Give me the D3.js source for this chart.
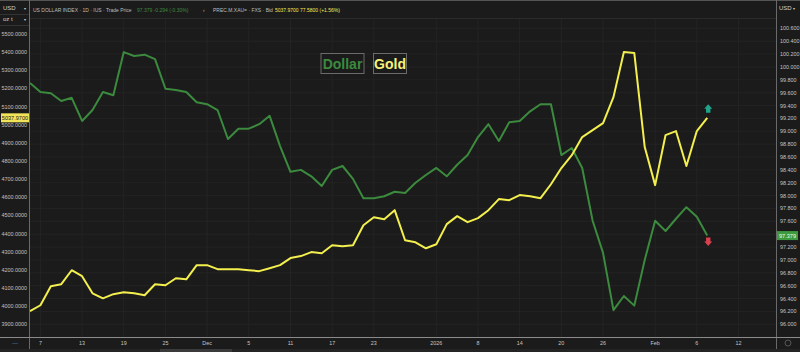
<!DOCTYPE html>
<html>
<head>
<meta charset="utf-8">
<script src="https://cdn.jsdelivr.net/npm/d3@7"></script>
<style>
  html, body { margin: 0; padding: 0; background: #1a1a1a; }
  svg { display: block; font-family: "Liberation Sans", Arial, sans-serif; }
</style>
</head>
<body>
<div id="chart"></div>
<script>
// trading-day index 0 = Nov 6
const dollar = [
  99.75, 99.61, 99.59, 99.47, 99.52, 99.16, 99.33, 99.61, 99.56, 100.23,
  100.17, 100.19, 100.12, 99.66, 99.64, 99.61, 99.45, 99.42, 99.33, 98.88,
  99.04, 99.04, 99.11, 99.24, 98.77, 98.37, 98.40, 98.30, 98.15, 98.40,
  98.46, 98.26, 97.96, 97.96, 97.99, 98.06, 98.04, 98.20, 98.32, 98.43,
  98.30, 98.48, 98.63, 98.91, 99.11, 98.85, 99.14, 99.16, 99.31, 99.42,
  99.42, 98.63, 98.74, 98.43, 97.61, 97.11, 96.22, 96.44, 96.29, 97.00,
  97.61, 97.45, 97.64, 97.82, 97.67, 97.379
];
const gold = [
  3972, 4005, 4110, 4121, 4198, 4165, 4071, 4043, 4066, 4077,
  4071, 4060, 4121, 4115, 4154, 4148, 4226, 4226, 4204, 4204,
  4204, 4198, 4193, 4209, 4226, 4265, 4276, 4298, 4292, 4336,
  4330, 4336, 4446, 4490, 4479, 4529, 4363, 4352, 4319, 4341,
  4452, 4496, 4463, 4485, 4529, 4590, 4584, 4612, 4606, 4595,
  4672, 4761, 4832, 4932, 4970, 5009, 5152, 5401, 5395, 4877,
  4667, 4943, 4965, 4772, 4965, 5037.97
];
const xTickLabels = ['7', '13', '19', '25', 'Dec', '5', '11', '17', '23', '2026', '8', '14', '20', '26', 'Feb', '6', '12'];
const xTickIndex  = [1, 5, 9, 13, 17, 21, 25, 29, 33, 39, 43, 47, 51, 55, 60, 64, 68];
const goldTicks   = d3.range(3900, 5501, 100);
const dollarTicks = d3.range(96, 100.61, 0.2);

const W = 800, H = 352;
const plot = { left: 30, right: 776, top: 18, bottom: 337 };

const svg = d3.select('#chart').append('svg')
  .attr('width', W).attr('height', H);

svg.append('rect').attr('width', W).attr('height', H).attr('fill', '#1b1b1b');

const x  = d3.scaleLinear().domain([0, 71.6]).range([plot.left, plot.right]);
const yL = d3.scaleLinear().domain([3900, 5500]).range([324.3, 34]);
const yR = d3.scaleLinear().domain([96, 100.6]).range([324.3, 28.3]);

// Gridlines
const grid = svg.append('g');
dollarTicks.forEach(v => {
  grid.append('line')
    .attr('x1', plot.left).attr('x2', plot.right)
    .attr('y1', yR(v)).attr('y2', yR(v))
    .attr('stroke', '#232323');
});
xTickIndex.forEach(i => {
  grid.append('line')
    .attr('x1', x(i)).attr('x2', x(i))
    .attr('y1', plot.top).attr('y2', plot.bottom)
    .attr('stroke', '#242424');
});

// Header bar
svg.append('line').attr('x1', 0).attr('x2', W).attr('y1', 0.5).attr('y2', 0.5).attr('stroke', '#555');
svg.append('line').attr('x1', 30).attr('x2', plot.right).attr('y1', 18.5).attr('y2', 18.5).attr('stroke', '#2a2a2a');

// header items: [text, x, colour]
const headerItems = [
  ['US DOLLAR INDEX · 1D · IUS · Trade Price', 33, '#bdbdbd'],
  ['97.379 -0.294 (-0.30%)', 137, '#3f8a3f'],
  ['‹', 203, '#bdbdbd'],
  ['PREC.M.XAU= · FXS · Bid', 213, '#bdbdbd'],
  ['5037.9700 77.5800 (+1.56%)', 275, '#f2ea5a']
];
const hdr = svg.append('g').attr('font-size', 5);
headerItems.forEach(([t, hx, c]) => {
  hdr.append('text').attr('x', hx).attr('y', 11.5).attr('fill', c).text(t);
});

// Left / right unit boxes
const unit = svg.append('g').attr('font-size', 6).attr('fill', '#cfcfcf');
unit.append('text').attr('x', 3).attr('y', 10).text('USD');
unit.append('text').attr('x', 24).attr('y', 10).attr('font-size', 4).text('▾');
unit.append('text').attr('x', 3).attr('y', 21).text('oz t');
unit.append('text').attr('x', 24).attr('y', 21).attr('font-size', 4).text('▾');
unit.append('text').attr('x', 779).attr('y', 10).text('USD');
unit.append('text').attr('x', 793).attr('y', 10).attr('font-size', 4).text('▾');
svg.append('line').attr('x1', 0).attr('x2', 29).attr('y1', 14.5).attr('y2', 14.5).attr('stroke', '#333');
svg.append('line').attr('x1', 0).attr('x2', 29).attr('y1', 25.5).attr('y2', 25.5).attr('stroke', '#333');

// Axis borders
svg.append('line').attr('x1', 29.5).attr('x2', 29.5).attr('y1', 0).attr('y2', 349).attr('stroke', '#6a6a6a');
svg.append('line').attr('x1', 776.5).attr('x2', 776.5).attr('y1', 0).attr('y2', 349).attr('stroke', '#6a6a6a');
svg.append('line').attr('x1', 0).attr('x2', W).attr('y1', 337.5).attr('y2', 337.5).attr('stroke', '#8a8a8a');

// Left axis (Gold)
const leftAx = svg.append('g').attr('font-size', 5.4).attr('fill', '#c4c4c4').attr('text-anchor', 'end');
goldTicks.forEach(v => {
  leftAx.append('text').attr('x', 27).attr('y', yL(v) + 2).text(v.toFixed(4));
});

// Right axis (Dollar)
const rightAx = svg.append('g').attr('font-size', 5.4).attr('fill', '#c4c4c4');
dollarTicks.forEach(v => {
  rightAx.append('text').attr('x', 780).attr('y', yR(v) + 2).text(v.toFixed(3));
});

// X axis labels
const bottomAx = svg.append('g').attr('font-size', 5.4).attr('fill', '#c4c4c4').attr('text-anchor', 'middle');
xTickIndex.forEach((i, k) => {
  bottomAx.append('text').attr('x', x(i)).attr('y', 345).text(xTickLabels[k]);
});
svg.append('text').attr('x', 15).attr('y', 345).attr('text-anchor', 'middle')
  .attr('font-size', 6).attr('fill', '#888').text('⋯');
svg.append('circle').attr('cx', 788).attr('cy', 343).attr('r', 3).attr('fill', 'none').attr('stroke', '#555');
svg.append('rect').attr('x', 0).attr('y', 349).attr('width', W).attr('height', 3).attr('fill', '#242424');
svg.append('rect').attr('x', 160).attr('y', 349).attr('width', 72).attr('height', 3).attr('fill', '#3a3a3a');

// Lines
svg.append('clipPath').attr('id', 'plotclip').append('rect')
  .attr('x', plot.left).attr('y', plot.top)
  .attr('width', plot.right - plot.left).attr('height', plot.bottom - plot.top);

const lines = svg.append('g').attr('clip-path', 'url(#plotclip)');
lines.append('path').datum(dollar)
  .attr('d', d3.line().x((_, i) => x(i)).y(d => yR(d)))
  .attr('fill', 'none').attr('stroke', '#3b8a3e').attr('stroke-width', 2)
  .attr('stroke-linejoin', 'round');
lines.append('path').datum(gold)
  .attr('d', d3.line().x((_, i) => x(i)).y(d => yL(d)))
  .attr('fill', 'none').attr('stroke', '#f3ef4e').attr('stroke-width', 2)
  .attr('stroke-linejoin', 'round');

// Direction arrows at last points
const lastI = gold.length - 1;
function arrow(cx, cy, up, color) {
  const s = up ? -1 : 1;
  const pts = [
    [cx - 2.2, cy - 4 * s], [cx + 2.2, cy - 4 * s], [cx + 2.2, cy],
    [cx + 4, cy], [cx, cy + 4.5 * s], [cx - 4, cy], [cx - 2.2, cy]
  ];
  svg.append('polygon').attr('points', pts.map(p => p.join(',')).join(' ')).attr('fill', color);
}
arrow(x(lastI) + 1, yL(gold[lastI]) - 9, true, '#1fa58a');
arrow(x(lastI) + 1, yR(dollar[lastI]) + 6, false, '#d9414f');

// Last value tags
svg.append('rect').attr('x', 1).attr('y', yL(gold[lastI]) - 4.5).attr('width', 28).attr('height', 9).attr('fill', '#f2e45a');
svg.append('text').attr('x', 15).attr('y', yL(gold[lastI]) + 2).attr('text-anchor', 'middle')
  .attr('font-size', 5.6).attr('fill', '#1a1a1a').text(gold[lastI].toFixed(4));
svg.append('rect').attr('x', 777).attr('y', yR(dollar[lastI]) - 4.5).attr('width', 21).attr('height', 9).attr('fill', '#3d9a3f');
svg.append('text').attr('x', 787.5).attr('y', yR(dollar[lastI]) + 2).attr('text-anchor', 'middle')
  .attr('font-size', 5.6).attr('fill', '#e8ffe8').text(dollar[lastI].toFixed(3));

// Legend boxes
const legend = [
  { name: 'Dollar', x: 321, w: 43, color: '#3b8a3e' },
  { name: 'Gold', x: 373.5, w: 33, color: '#f7f27a' }
];
legend.forEach(l => {
  svg.append('rect').attr('x', l.x).attr('y', 53.5).attr('width', l.w).attr('height', 20)
    .attr('fill', '#1b1b1b').attr('stroke', '#6b6b6b').attr('stroke-width', 1);
  svg.append('text').attr('x', l.x + l.w / 2).attr('y', 68.5).attr('text-anchor', 'middle')
    .attr('font-size', 14).attr('font-weight', 'bold').attr('fill', l.color).text(l.name);
});
</script>
</body>
</html>
